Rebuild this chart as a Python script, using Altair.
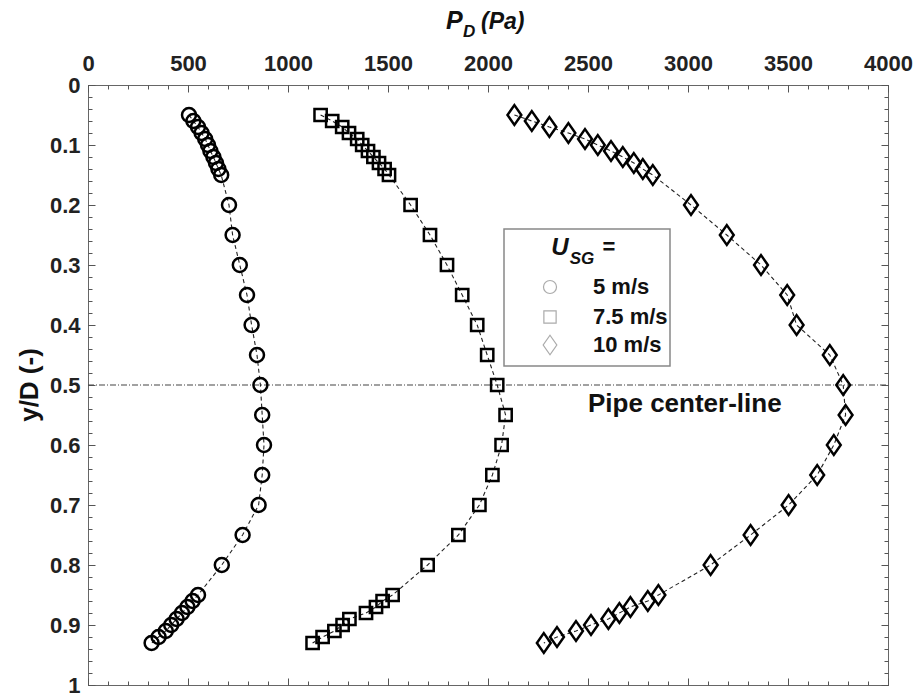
import altair as alt
import pandas as pd

# ---------------- data ----------------
y_over_D = [0.05, 0.06, 0.07, 0.08, 0.09, 0.10, 0.11, 0.12, 0.13, 0.14, 0.15,
            0.20, 0.25, 0.30, 0.35, 0.40, 0.45, 0.50, 0.55, 0.60, 0.65, 0.70,
            0.75, 0.80, 0.85, 0.86, 0.87, 0.88, 0.89, 0.90, 0.91, 0.92, 0.93]

p_5 = [505, 527, 550, 568, 586, 600, 612, 627, 640, 652, 666,
       705, 723, 759, 795, 818, 845, 862, 871, 880, 871, 853,
       773, 669, 550, 523, 497, 470, 443, 416, 389, 353, 318]

p_75 = [1163, 1221, 1271, 1305, 1346, 1371, 1400, 1427, 1455, 1483, 1505,
        1613, 1710, 1795, 1871, 1946, 1996, 2046, 2088, 2068, 2022, 1957,
        1852, 1698, 1523, 1473, 1440, 1390, 1307, 1273, 1232, 1173, 1123]

p_10 = [2132, 2219, 2307, 2402, 2485, 2549, 2615, 2674, 2729, 2774, 2824,
        3015, 3194, 3365, 3496, 3543, 3709, 3776, 3788, 3729, 3646, 3503,
        3313, 3113, 2852, 2799, 2712, 2657, 2602, 2515, 2440, 2345, 2279]

series_labels = ["5 m/s", "7.5 m/s", "10 m/s"]
x_major = [0, 500, 1000, 1500, 2000, 2500, 3000, 3500, 4000]
x_minor = list(range(0, 4001, 100))
y_major = [0, 0.1, 0.2, 0.3, 0.4, 0.5, 0.6, 0.7, 0.8, 0.9, 1.0]
y_minor = [round(i * 0.02, 2) for i in range(51)]
center_line = 0.5
center_label = "Pipe center-line"

rows = []
for lab, vals in zip(series_labels, [p_5, p_75, p_10]):
    for y, p in zip(y_over_D, vals):
        rows.append({"series": lab, "y": y, "P": p})
df = pd.DataFrame(rows)

# ---------------- styling ----------------
FONT = "Liberation Sans"
TICK = "#555555"
diamond_path = "M0,-1L0.7,0L0,1L-0.7,0Z"
shape_range = ["circle", "square", diamond_path]
marker_sizes = [195, 150, 390]

xscale = alt.Scale(domain=[0, 4000], nice=False, zero=False)
yscale = alt.Scale(domain=[0, 1], reverse=True, nice=False, zero=False)


def xax(orient, values, labels=False, tick=0):
    kw = dict(orient=orient, values=values, title=None, grid=False, domain=False,
              labelFlush=False, labelBound=False)
    if labels:
        kw.update(labels=True, ticks=False, format="d", labelFont=FONT,
                  labelFontSize=22, labelFontWeight="bold", labelColor="#222222",
                  labelPadding=10)
    else:
        kw.update(labels=False, ticks=True, tickSize=tick, offset=-tick,
                  tickColor=TICK, tickWidth=1)
    return alt.Axis(**kw)


def yax(orient, values, labels=False, tick=0):
    kw = dict(orient=orient, values=values, title=None, grid=False, domain=False,
              labelFlush=False, labelBound=False)
    if labels:
        kw.update(labels=True, ticks=False, format=".1~f", labelFont=FONT,
                  labelFontSize=22, labelFontWeight="bold", labelColor="#222222",
                  labelPadding=8)
    else:
        kw.update(labels=False, ticks=True, tickSize=tick, offset=-tick,
                  tickColor=TICK, tickWidth=1)
    return alt.Axis(**kw)


base = alt.Chart(df)

# center line (carries the labelled axes)
center = alt.Chart(pd.DataFrame({"P": [0], "cy": [center_line]})).mark_rule(
    color="#444444", strokeWidth=1.2, strokeDash=[6, 2, 1, 2]
).encode(
    x=alt.X("P:Q", scale=xscale, axis=xax("top", x_major, labels=True)),
    x2=alt.value(800),
    y=alt.Y("cy:Q", scale=yscale, axis=yax("left", y_major, labels=True)),
)

lines = base.mark_line(color="#222222", strokeWidth=1.1, strokeDash=[4, 3]).encode(
    x=alt.X("P:Q", scale=xscale, axis=xax("top", x_major, tick=7)),
    y=alt.Y("y:Q", scale=yscale, axis=yax("left", y_major, tick=7)),
    detail="series:N",
    order=alt.Order("y:Q"),
)

point_layers = []
for i, (lab, shp, sz) in enumerate(zip(series_labels, shape_range, marker_sizes)):
    if i == 0:
        xa, ya = xax("top", x_minor, tick=4), yax("left", y_minor, tick=4)
    else:
        xa, ya = None, None
    point_layers.append(
        base.transform_filter(alt.datum.series == lab).mark_point(
            filled=False, color="black", strokeWidth=2.5, opacity=1, shape=shp, size=sz
        ).encode(
            x=alt.X("P:Q", scale=xscale, axis=xa),
            y=alt.Y("y:Q", scale=yscale, axis=ya),
        )
    )

ghost1 = base.mark_point(opacity=0).encode(
    x=alt.X("P:Q", scale=xscale, axis=xax("bottom", x_major, tick=7)),
    y=alt.Y("y:Q", scale=yscale, axis=yax("right", y_major, tick=7)),
)
ghost2 = base.mark_point(opacity=0).encode(
    x=alt.X("P:Q", scale=xscale, axis=xax("bottom", x_minor, tick=4)),
    y=alt.Y("y:Q", scale=yscale, axis=yax("right", y_minor, tick=4)),
)

one = alt.Chart(pd.DataFrame({"k": [0]}))

pipe_text = one.mark_text(font=FONT, fontSize=26, fontWeight="bold", color="#111111",
                          align="left", baseline="middle").encode(
    x=alt.value(500), y=alt.value(319), text=alt.value(center_label))

# legend
legend_box = one.mark_rect(fill="white", stroke="#888888", strokeWidth=1.5).encode(
    x=alt.value(416), x2=alt.value(582), y=alt.value(144), y2=alt.value(281))
leg_layers = [legend_box]
leg_layers.append(one.mark_text(font=FONT, fontSize=24, fontWeight="bold", fontStyle="italic",
                                color="#111111", align="center", baseline="middle").encode(
    x=alt.value(472), y=alt.value(163), text=alt.value("U")))
leg_layers.append(one.mark_text(font=FONT, fontSize=17, fontWeight="bold", fontStyle="italic",
                                color="#111111", align="center", baseline="middle").encode(
    x=alt.value(494), y=alt.value(174), text=alt.value("SG")))
leg_layers.append(one.mark_text(font=FONT, fontSize=22, fontWeight="bold",
                                color="#111111", align="center", baseline="middle").encode(
    x=alt.value(521), y=alt.value(162), text=alt.value("=")))
leg_sizes = [170, 150, 380]
for i, (lab, shp, sz) in enumerate(zip(series_labels, shape_range, leg_sizes)):
    yy = [202, 232, 260][i]
    leg_layers.append(one.mark_point(filled=False, color="#888888", strokeWidth=1.2).encode(
        x=alt.value(462), y=alt.value(yy), shape=alt.value(shp), size=alt.value(sz)))
    leg_layers.append(one.mark_text(font=FONT, fontSize=22, fontWeight="bold", color="#111111",
                                    align="left", baseline="middle").encode(
        x=alt.value(505), y=alt.value(yy), text=alt.value(lab)))

# axis titles
titles = [
    one.mark_text(font=FONT, fontSize=25, fontWeight="bold", fontStyle="italic", color="#111111",
                  align="left", baseline="alphabetic").encode(
        x=alt.value(358), y=alt.value(-56), text=alt.value("P")),
    one.mark_text(font=FONT, fontSize=17, fontWeight="bold", fontStyle="italic", color="#111111",
                  align="left", baseline="alphabetic").encode(
        x=alt.value(375), y=alt.value(-48), text=alt.value("D")),
    one.mark_text(font=FONT, fontSize=23, fontWeight="bold", fontStyle="italic", color="#111111",
                  align="left", baseline="alphabetic").encode(
        x=alt.value(393), y=alt.value(-56), text=alt.value("(Pa)")),
    one.mark_text(font=FONT, fontSize=26, fontWeight="bold", color="#111111", angle=270,
                  align="center", baseline="middle").encode(
        x=alt.value(-58), y=alt.value(300), text=alt.value("y/D (-)")),
]

chart = alt.layer(
    center, lines, *point_layers, ghost1, ghost2, pipe_text, *leg_layers, *titles
).resolve_axis(x="independent", y="independent").properties(
    width=800, height=600,
    autosize=alt.AutoSizeParams(type="none"),
    padding={"left": 88, "top": 85, "right": 30, "bottom": 13},
    background="white",
).configure_view(stroke="#666666", strokeWidth=1)

chart.save("out.html", embed_options={"renderer": "svg", "actions": False})
